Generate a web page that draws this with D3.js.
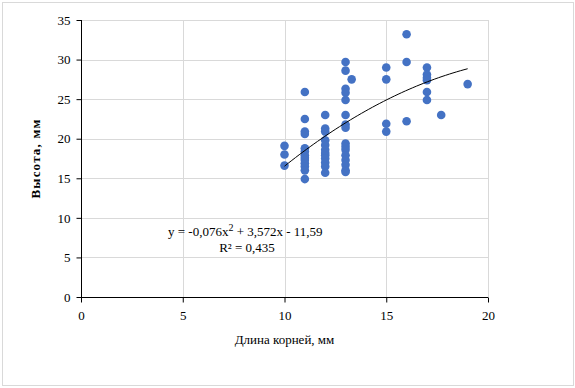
<!DOCTYPE html>
<html><head><meta charset="utf-8">
<script src="https://cdn.jsdelivr.net/npm/d3@7"></script>
<style>body{margin:0;background:#fff;} svg{display:block;font-family:"Liberation Serif","Times New Roman",serif;}</style>
</head><body>
<script>
const xValues = [10,10,10, 11,11,11,11,11,11,11,11,11,11,11,11,11, 12,12,12,12,12,12,12,12,12,12,12,12, 13,13,13,13,13,13,13,13,13,13,13,13,13,13,13,13, 13.3, 15,15,15,15, 16,16,16, 17,17,17,17,17,17, 17.7, 19];
const yValues = [19.1,18.0,16.6, 25.9,22.5,20.9,20.6,18.8,18.4,17.9,17.6,17.3,16.9,16.5,16.0,14.9, 23.0,21.3,20.9,19.8,19.2,18.6,18.2,17.9,17.5,17.0,16.5,15.7, 29.7,28.6,26.3,25.8,24.9,23.0,21.8,21.4,19.4,19.0,18.6,17.9,17.3,16.7,16.0,15.8, 27.5, 29.0,27.5,21.9,20.9, 33.2,29.7,22.2, 29.0,28.1,27.7,27.4,25.9,24.9, 23.0, 26.9];
const xTicks = [0,5,10,15,20];
const yTicks = [0,5,10,15,20,25,30,35];
const trendCoef = [-0.076, 3.572, -11.59];
const trendRange = [10, 19];
const xTitle = "Длина корней, мм";
const yTitle = "Высота, мм";

const W = 575, H = 388;
const svg = d3.select("body").append("svg").attr("width", W).attr("height", H);
svg.append("rect").attr("x",2.5).attr("y",2.5).attr("width",571).attr("height",383)
  .attr("fill","#fff").attr("stroke","#d9d9d9").attr("stroke-width",1);

const x = d3.scaleLinear().domain([0,20]).range([81,488]);
const y = d3.scaleLinear().domain([0,35]).range([297,20]);

// gridlines
svg.append("g").selectAll("line").data(yTicks.filter(d=>d>0)).join("line")
  .attr("x1",x(0)).attr("x2",x(20)).attr("y1",d=>Math.round(y(d))+0.5).attr("y2",d=>Math.round(y(d))+0.5)
  .attr("stroke","#d9d9d9");
svg.append("g").selectAll("line").data(xTicks.filter(d=>d>0)).join("line")
  .attr("y1",y(0)).attr("y2",y(35)).attr("x1",d=>Math.round(x(d))+0.5).attr("x2",d=>Math.round(x(d))+0.5)
  .attr("stroke","#d9d9d9");

// axes
const xAxis = svg.append("g").attr("transform",`translate(0,${Math.round(y(0))+0.5})`)
  .call(d3.axisBottom(x).tickValues(xTicks).tickSize(5).tickPadding(8).tickFormat(d3.format("d")));
const yAxis = svg.append("g").attr("transform",`translate(${Math.round(x(0))+0.5},0)`)
  .call(d3.axisLeft(y).tickValues(yTicks).tickSize(5).tickPadding(6).tickFormat(d3.format("d")));
[xAxis,yAxis].forEach(a=>{
  a.select(".domain").attr("stroke","#000");
  a.selectAll(".tick line").attr("stroke","#000");
  a.selectAll("text").attr("font-family","Liberation Serif, serif").attr("font-size",13).attr("fill","#000");
});
xAxis.select(".domain").attr("d",`M${x(0)},0H${x(20)}`);
yAxis.select(".domain").attr("d",`M0,${y(0)}V${y(35)}`);

// points
svg.append("g").selectAll("circle").data(xValues.map((v,i)=>[v,yValues[i]])).join("circle")
  .attr("cx",d=>x(d[0])).attr("cy",d=>y(d[1])).attr("r",4.3).attr("fill","#4472C4");

// trendline
const f = t => trendCoef[0]*t*t + trendCoef[1]*t + trendCoef[2];
const tx = d3.range(0, 51).map(i => trendRange[0] + (trendRange[1]-trendRange[0])*i/50);
svg.append("path").datum(tx).attr("fill","none").attr("stroke","#000").attr("stroke-width",1)
  .attr("d", d3.line().x(d=>x(d)).y(d=>y(f(d))));

// equation text
const eq = svg.append("text").attr("x",168).attr("y",236).attr("font-size",13).attr("fill","#000");
eq.append("tspan").text("y = -0,076x");
eq.append("tspan").attr("dy",-5).attr("font-size",10).text("2");
eq.append("tspan").attr("dy",5).text(" + 3,572x - 11,59");
svg.append("text").attr("x",247).attr("y",252).attr("text-anchor","middle").attr("font-size",13).text("R² = 0,435");

// titles
svg.append("text").attr("x",(x(0)+x(20))/2).attr("y",344).attr("text-anchor","middle")
  .attr("font-size",13).text(xTitle);
svg.append("text").attr("transform",`translate(40,${(y(0)+y(35))/2}) rotate(-90)`).attr("text-anchor","middle")
  .attr("font-size",13).attr("font-weight","bold").attr("letter-spacing",1.2).text(yTitle);
</script>
</body></html>
